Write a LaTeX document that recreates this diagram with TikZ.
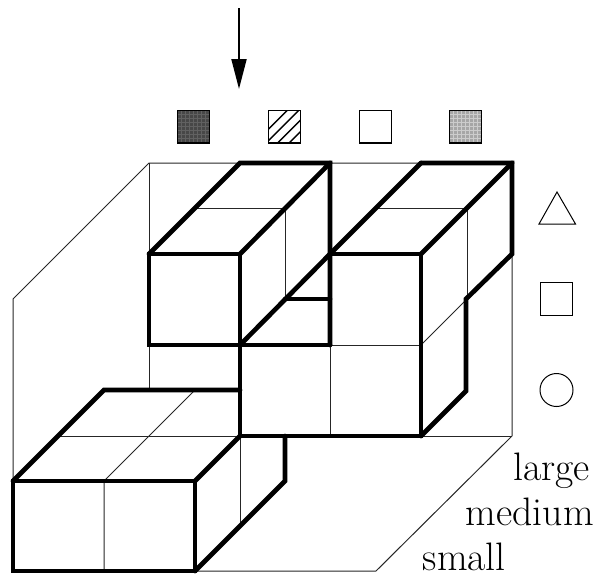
\documentclass[tikz,border=0pt]{standalone}
\usetikzlibrary{arrows.meta}
\tikzset{
  thin line/.style={line width=1pt,black!85},
  thick line/.style={line width=4.7pt,line join=miter,line cap=round},
  swatch/.style={draw,line width=1.2pt},
  shapeline/.style={draw,line width=1pt},
  label text/.style={inner sep=0pt,font=\fontsize{39.7}{44}\selectfont,anchor=base east},
}
\begin{document}
\begin{tikzpicture}[x=1pt,y=-1pt]
\useasboundingbox (0,0) rectangle (601,574);
% thin frame
\draw[thin line] (13,481) -- (13,299) -- (149,163) -- (512,163) -- (512,436) -- (376,571) -- (13,571);
\draw[thin line] (149,163) -- (149,390);
\draw[thin line] (420,436) -- (512,436);
% thin inner lines, lower block
\draw[thin line] (58,436) -- (240,436);
\draw[thin line] (104,571) -- (104,481) -- (195,390);
\draw[thin line] (240,436) -- (240,526);
% thin inner lines, middle block
\draw[thin line] (330,345) -- (420,345);
\draw[thin line] (330,345) -- (330,436);
\draw[thin line] (376,208) -- (467,208) -- (467,299);
\draw[thin line] (421,345) -- (467,299);
\draw[thin line] (195,208) -- (285,208) -- (285,299);
% thick outlines, lower block
\draw[thick line] (13,481) rectangle (195,571);
\draw[thick line] (13,481) -- (104,390) -- (240,390);
\draw[thick line] (195,481) -- (240,436);
\draw[thick line] (195,571) -- (285,481) -- (285,436);
% thick outlines, middle block
\draw[thick line] (240,345) -- (240,436) -- (421,436) -- (421,254) -- (330,254);
\draw[thick line] (240,345) -- (330,345);
\draw[thick line] (421,436) -- (466,391) -- (466,299) -- (512,254) -- (512,163) -- (421,163);
\draw[thick line] (330,254) -- (421,163);
\draw[thick line] (421,254) -- (512,163);
% thick outlines, upper block
\draw[thick line] (149,254) rectangle (240,345);
\draw[thick line] (149,254) -- (240,163) -- (330,163) -- (330,345);
\draw[thick line] (240,254) -- (330,163);
\draw[thick line] (240,345) -- (330,254);
\draw[thick line] (285,299) -- (330,299);
% arrow
\draw[line width=2pt,-{Triangle[length=30pt,width=15pt]}] (239,8) -- (239,89);
% swatches
\path[fill=black!72] (177.5,110.5) rectangle (209.5,143);
\foreach \d in {4,8,...,28} {
  \draw[line width=.8pt,black!62] (177.5+\d,110.5) -- (177.5+\d,143);
  \draw[line width=.8pt,black!62] (177.5,110.5+\d) -- (209.5,110.5+\d);
}
\path[swatch] (177.5,110.5) rectangle (209.5,143);
\begin{scope}
\clip (268.5,110.5) rectangle (300.5,143);
\foreach \d in {0,11.5,...,69}
  \draw[line width=1.4pt] (268.5+\d-14,143) -- (268.5+\d+18.5,110.5);
\end{scope}
\path[swatch] (268.5,110.5) rectangle (300.5,143);
\path[swatch] (359.5,110.5) rectangle (391.5,143);
\path[fill=black!35] (449.5,110.5) rectangle (481.5,143);
\foreach \d in {4,8,...,28} {
  \draw[line width=.8pt,black!20] (449.5+\d,110.5) -- (449.5+\d,143);
  \draw[line width=.8pt,black!20] (449.5,110.5+\d) -- (481.5,110.5+\d);
}
\path[swatch] (449.5,110.5) rectangle (481.5,143);
% shapes
\path[shapeline] (539,224) -- (557,192) -- (575.5,224) -- cycle;
\path[shapeline] (540.5,282.5) rectangle (572.5,315);
\path[shapeline] (556.5,390) circle (16.5);
% labels
\node[label text] (large) at (590,480) {large};
\node[label text] (medium) at (594,525) {medium};
\node[label text] (small) at (506,570) {small};
\end{tikzpicture}
\end{document}
